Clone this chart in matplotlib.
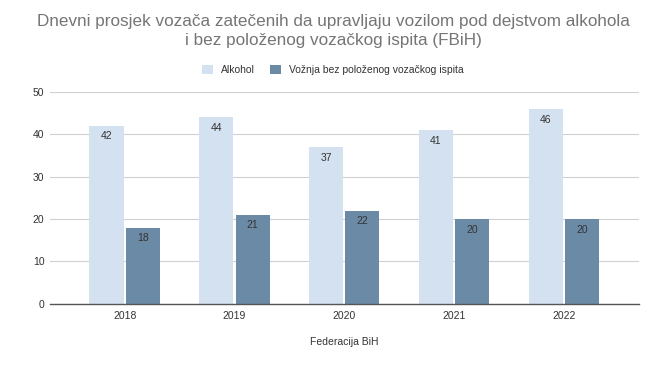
import matplotlib
matplotlib.use("Agg")
import matplotlib.pyplot as plt
import numpy as np

plt.rcParams['font.family'] = ['Liberation Sans', 'DejaVu Sans']

years = ["2018", "2019", "2020", "2021", "2022"]
alkohol = [42, 44, 37, 41, 46]
bez_ispita = [18, 21, 22, 20, 20]
series_names = ["Alkohol", "Vožnja bez položenog vozačkog ispita"]
title = "Dnevni prosjek vozača zatečenih da upravljaju vozilom pod dejstvom alkohola\ni bez položenog vozačkog ispita (FBiH)"
xlabel = "Federacija BiH"

c1 = "#d4e1f1"
c2 = "#6b8aa5"

fig = plt.figure(figsize=(6.66, 3.71), dpi=100)
ax = fig.add_axes([0.075, 0.181, 0.884, 0.571])

x = np.arange(len(years))
w = 0.31
off = 0.165
b1 = ax.bar(x - off, alkohol, w, color=c1, label=series_names[0], zorder=2)
b2 = ax.bar(x + off, bez_ispita, w, color=c2, label=series_names[1], zorder=2)

for bars, vals in ((b1, alkohol), (b2, bez_ispita)):
    for r, v in zip(bars, vals):
        ax.annotate(str(v), (r.get_x() + r.get_width() / 2, v), xytext=(0, -4),
                    textcoords="offset points", ha="center", va="top",
                    fontsize=7.5, color="#333333", zorder=3)

ax.set_xlim(-0.68, 4.68)
ax.set_ylim(0, 50)
ax.set_yticks([0, 10, 20, 30, 40, 50])
ax.set_xticks(x)
ax.set_xticklabels(years)
ax.tick_params(axis='both', length=0, labelsize=7.5, colors="#333333")
ax.tick_params(axis='y', pad=4)
ax.tick_params(axis='x', pad=5)
ax.grid(axis='y', color="#d0d0d0", linewidth=0.8, zorder=0)
for s in ("top", "right", "left"):
    ax.spines[s].set_visible(False)
ax.spines['bottom'].set_color("#555555")
ax.spines['bottom'].set_linewidth(1.0)
ax.spines['bottom'].set_zorder(4)

ax.set_xlabel(xlabel, fontsize=7.5, color="#333333", labelpad=12)

fig.text(0.5, 0.962, title, ha="center", va="top", fontsize=12.3, color="#757575", linespacing=1.3)

leg = fig.legend(handles=[b1, b2], labels=series_names, loc="center", bbox_to_anchor=(0.5, 0.812),
                 ncol=2, frameon=False, fontsize=7.5, handlelength=1.0, handleheight=1.0,
                 columnspacing=1.5, handletextpad=0.8)
for t in leg.get_texts():
    t.set_color("#333333")

fig.savefig("out.png", dpi=100)
